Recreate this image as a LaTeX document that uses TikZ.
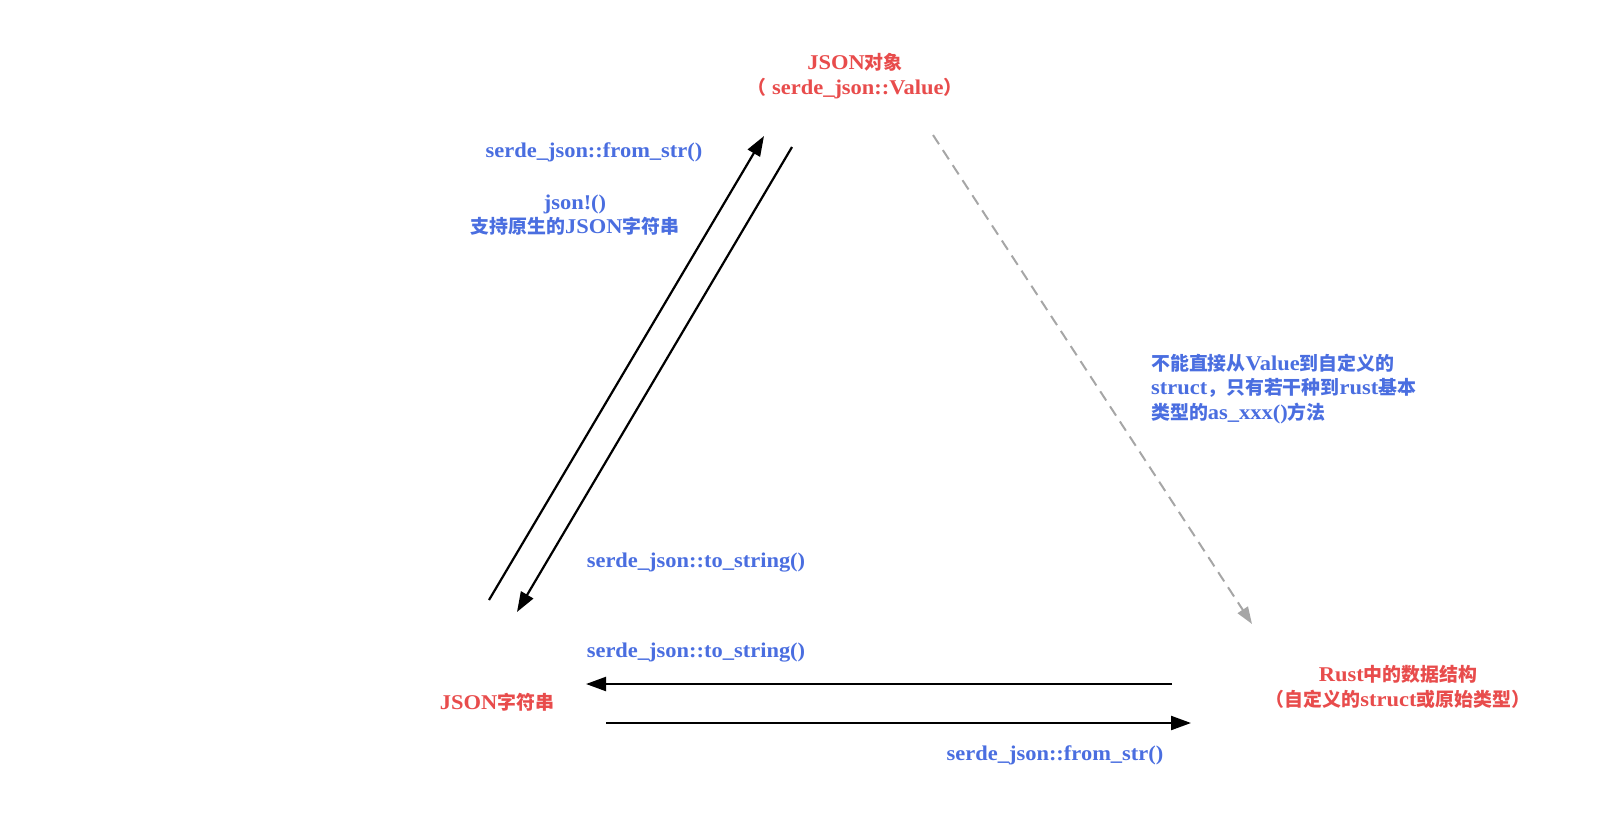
\documentclass[tikz,border=0pt]{standalone}
\usepackage{fontspec}
\setmainfont{Liberation Serif}[FakeStretch=1.07]
\newfontfamily\cjk{Noto Sans CJK SC}[Scale=0.9]
\usetikzlibrary{arrows.meta}
\definecolor{tred}{HTML}{E84C4C}
\definecolor{tblue}{HTML}{4A6EE0}
\definecolor{tgray}{HTML}{A6A6A6}
\newcommand\zh[1]{{\cjk #1}}
\tikzset{
  title/.style={text=tred, font=\fontsize{21}{24.7}\selectfont\bfseries, align=center, inner sep=0pt},
  lbl/.style={text=tblue, font=\fontsize{21}{24.7}\selectfont\bfseries, align=center, inner sep=0pt},
  conn/.style={draw=black, line width=2.2pt, -{Triangle[length=20pt,width=14pt]}},
  dconn/.style={draw=tgray, line width=2pt, dash pattern=on 11pt off 7pt, -{Triangle[length=17pt,width=12pt]}},
}
\begin{document}
\begin{tikzpicture}[x=1pt,y=-1pt]
\useasboundingbox (0,0) rectangle (1612,820);
% main nodes
\node[title] (obj) at (855,76) {JSON\zh{对象}\\\zh{（} serde\_json::Value\zh{）}};
\node[title] (str) at (497,702) {JSON\zh{字符串}};
\node[title] (rust) at (1398,687) {Rust\zh{中的数据结构}\\\zh{（自定义的}struct\zh{或原始类型）}};
% labels
\node[lbl] (l1) at (594,152) {serde\_json::from\_str()};
\node[lbl] (l2) at (575,215) {json!()\\\zh{支持原生的}JSON\zh{字符串}};
\node[lbl, align=left, anchor=west] (l3) at (1151,389) {\zh{不能直接从}Value\zh{到自定义的}\\struct\zh{，只有若干种到}rust\zh{基本}\\\zh{类型的}as\_xxx()\zh{方法}};
\node[lbl] (l4) at (696,563) {serde\_json::to\_string()};
\node[lbl] (l5) at (696,653) {serde\_json::to\_string()};
\node[lbl] (l6) at (1055,755) {serde\_json::from\_str()};
% connector ends
\coordinate (upS) at (489,600);
\coordinate (upE) at (764,136);
\coordinate (dnS) at (792,147);
\coordinate (dnE) at (517,612);
\coordinate (lfS) at (1172,684);
\coordinate (lfE) at (586,684);
\coordinate (rtS) at (606,723);
\coordinate (rtE) at (1191,723);
\coordinate (dsS) at (933,135);
\coordinate (dsE) at (1252,624);
% connectors
\draw[conn] (upS) -- (upE);
\draw[conn] (dnS) -- (dnE);
\draw[conn] (lfS) -- (lfE);
\draw[conn] (rtS) -- (rtE);
\draw[dconn] (dsS) -- (dsE);
\end{tikzpicture}
\end{document}
